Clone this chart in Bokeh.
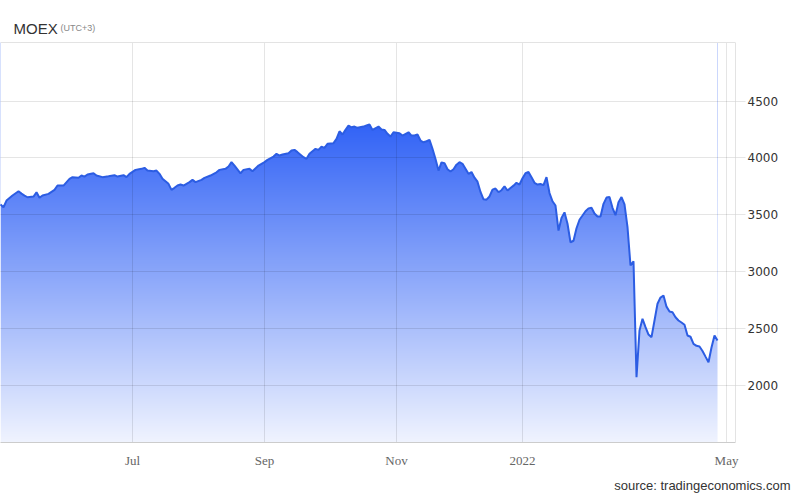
import numpy as np
from bokeh.plotting import figure
from bokeh.models import Range1d, FixedTicker, Label, Span, Title
from bokeh.embed import file_html
from bokeh.resources import INLINE

# trading-session number (0 = first session shown) and MOEX close
session = [0, 1, 2, 4, 6, 7, 8, 9, 11, 12, 13, 14, 16, 18, 19, 21, 23, 24, 26, 27,
           28, 29, 31, 32, 34, 36, 38, 39, 41, 42, 43, 45, 47, 48, 49, 51, 52, 53, 54, 56,
           57, 58, 59, 60, 61, 63, 64, 65, 67, 68, 70, 72, 73, 75, 76, 77, 78, 80, 81, 83,
           84, 86, 88, 89, 91, 92, 93, 94, 96, 97, 98, 99, 101, 102, 103, 104, 105, 106, 107, 108,
           109, 111, 112, 113, 114, 115, 116, 117, 118, 119, 121, 122, 123, 124, 126, 127, 128, 129, 130, 131,
           133, 134, 136, 137, 138, 139, 140, 141, 142, 143, 144, 145, 146, 147, 148, 149, 150, 151, 152, 153,
           154, 155, 156, 157, 158, 159, 160, 161, 162, 163, 164, 165, 166, 167, 168, 169, 170, 171, 172, 173,
           174, 175, 176, 177, 178, 179, 180, 181, 182, 183, 184, 185, 186, 187, 188, 189, 190, 191, 192, 193,
           194, 195, 196, 197, 198, 199, 200, 201, 202, 203, 204, 205, 206, 207, 208, 209, 210, 211, 212, 213,
           214, 215, 216, 217, 218, 219, 220, 221, 222, 223, 224, 225, 226, 227, 228, 229, 230, 231, 232, 233,
           234, 235, 236, 237, 238, 239]
close = [3590, 3565, 3624, 3668, 3706, 3685, 3668, 3653, 3659, 3697, 3648, 3668, 3683, 3718, 3756, 3756, 3815, 3830, 3824, 3844,
         3835, 3853, 3864, 3844, 3830, 3838, 3847, 3835, 3847, 3830, 3859, 3894, 3903, 3912, 3888, 3882, 3888, 3859, 3815, 3771,
         3718, 3736, 3756, 3765, 3756, 3786, 3806, 3786, 3806, 3824, 3844, 3873, 3894, 3903, 3924, 3962, 3932, 3864, 3894, 3903,
         3882, 3932, 3962, 3982, 4011, 4035, 4020, 4029, 4040, 4064, 4070, 4050, 4006, 3991, 4035, 4058, 4079, 4070, 4099, 4088,
         4123, 4129, 4167, 4234, 4205, 4246, 4284, 4269, 4275, 4264, 4275, 4284, 4293, 4246, 4275, 4250, 4246, 4211, 4187, 4225,
         4217, 4196, 4225, 4196, 4196, 4205, 4152, 4137, 4146, 4158, 4080, 3990, 3888, 3960, 3953, 3900, 3880, 3900, 3940, 3962,
         3947, 3903, 3859, 3875, 3825, 3790, 3700, 3635, 3632, 3660, 3720, 3730, 3697, 3715, 3750, 3712, 3735, 3755, 3780, 3765,
         3820, 3865, 3875, 3830, 3780, 3765, 3770, 3760, 3830, 3690, 3618, 3580, 3360, 3470, 3520, 3420, 3257, 3270, 3380, 3455,
         3492, 3530, 3555, 3560, 3510, 3483, 3483, 3595, 3650, 3655, 3560, 3495, 3610, 3655, 3590, 3390, 3052, 3090, 2069, 2480,
         2583, 2509, 2444, 2421, 2568, 2715, 2770, 2788, 2690, 2648, 2641, 2597, 2568, 2550, 2530, 2436, 2425, 2362, 2345, 2339,
         2300, 2250, 2201, 2330, 2436, 2392]

month_ticks = [44, 88, 132, 174, 242]
month_labels = ["Jul", "Sep", "Nov", "2022", "May"]
price_ticks = [2000, 2500, 3000, 3500, 4000, 4500]

X0, X1 = 0, 245
Y0, Y1 = 1494, 5385      # frame runs to the canvas top; the chart box ends at YB
YB = 5015

p = figure(width=800, height=502, x_range=Range1d(X0, X1), y_range=Range1d(Y0, Y1),
           y_axis_location="right", output_backend="svg", toolbar_location=None,
           min_border_left=0, min_border_top=0, min_border_right=65, min_border_bottom=60)
p.outline_line_color = None
p.background_fill_color = "white"
p.border_fill_color = "white"

# vertical gradient fill under the line
rows = 400
img = np.empty((rows, 1), dtype=np.uint32)
view = img.view(dtype=np.uint8).reshape((rows, 1, 4))
vmax = max(close)
base = np.array([38, 90, 245], dtype=float)
for r in range(rows):
    v = Y0 + (r + 0.5) * (YB - Y0) / rows
    t = min(max((vmax - v) / (vmax - Y0), 0.0), 1.0)
    a = 0.95 - 0.88 * t
    col = 255 - a * (255 - base)
    view[r, 0, 0:3] = np.round(col).astype(np.uint8)
    view[r, 0, 3] = 255
p.image_rgba(image=[img], x=X0, y=Y0, dw=session[-1] - X0, dh=YB - Y0)
# white mask above the line
p.varea(x=session, y1=close, y2=YB, fill_color="white")

# vertical grid lines (only inside the chart box)
p.segment(x0=month_ticks, y0=Y0, x1=month_ticks, y1=YB, line_color="black",
          line_alpha=0.1, line_width=1)
p.xgrid.visible = False
p.ygrid.level = "guide"
p.ygrid.grid_line_color = "black"
p.ygrid.grid_line_alpha = 0.1

p.line(session, close, line_color="#2c5de3", line_width=2, level="annotation")

# top border of the chart box
p.add_layout(Span(location=YB, dimension="width", line_color="#e3e3e3", line_width=1))

# x axis
xa = p.xaxis[0]
xa.ticker = FixedTicker(ticks=month_ticks)
xa.major_label_overrides = {t: l for t, l in zip(month_ticks, month_labels)}
xa.axis_line_color = "#cccccc"
xa.major_tick_out = 0
xa.major_tick_in = 0
xa.minor_tick_out = 0
xa.minor_tick_in = 0
xa.major_label_standoff = 10
xa.major_label_text_font = "Liberation Sans Narrow"
xa.major_label_text_font_size = "13px"
xa.major_label_text_color = "#666666"

# y axis (right)
ya = p.yaxis[0]
ya.ticker = FixedTicker(ticks=price_ticks)
ya.bounds = (Y0, YB)
ya.axis_line_color = "#e3e3e3"
ya.major_tick_line_color = "#e6e6e6"
ya.major_tick_out = 10
ya.major_tick_in = 0
ya.minor_tick_out = 0
ya.minor_tick_in = 0
ya.major_label_standoff = 2
ya.major_label_text_font = "DejaVu Sans"
ya.major_label_text_font_size = "12px"
ya.major_label_text_color = "#333333"

p.add_layout(Label(x=13, y=414.3, x_units="screen", y_units="screen", text="MOEX",
                   text_font="Liberation Sans", text_font_size="15px", text_color="#333333",
                   text_baseline="alphabetic"))
p.add_layout(Label(x=60, y=415, x_units="screen", y_units="screen", text="(UTC+3)",
                   text_font="Liberation Sans", text_font_size="9px", text_color="#888888",
                   text_baseline="alphabetic"))

src = Title(text="source: tradingeconomics.com", align="right", offset=-55, standoff=15,
            text_font="Liberation Sans", text_font_size="13px", text_font_style="normal",
            text_color="#333333", vertical_align="top")
p.add_layout(src, "below")

open("out.html", "w").write(file_html(p, INLINE))
